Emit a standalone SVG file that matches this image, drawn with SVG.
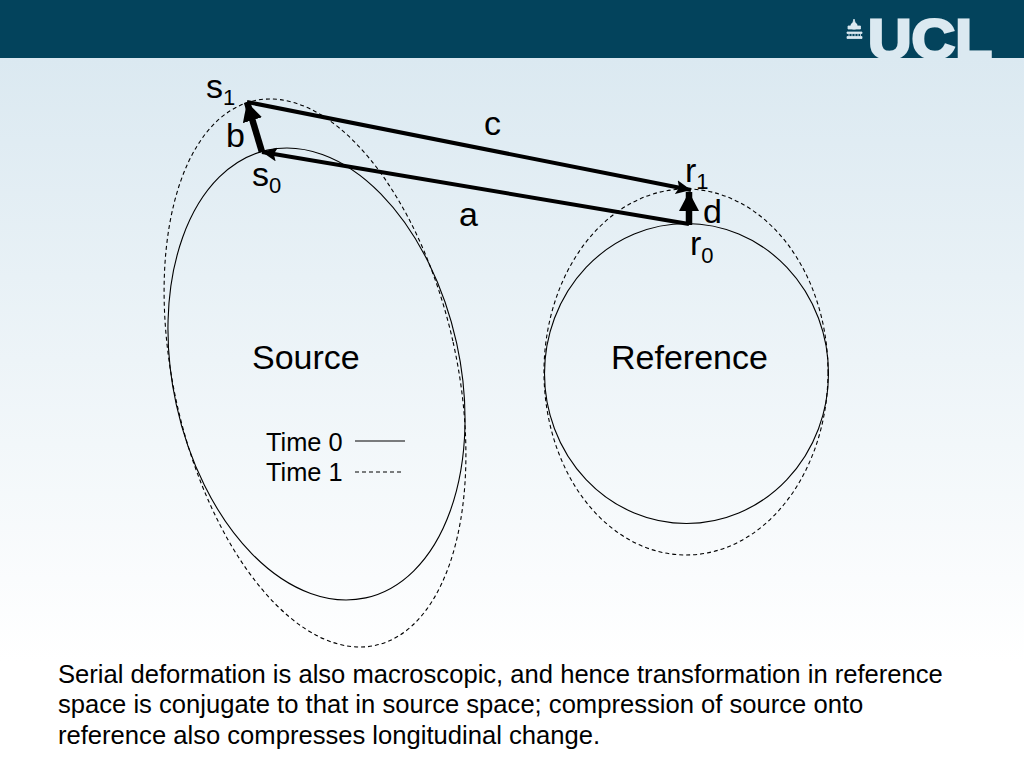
<svg xmlns="http://www.w3.org/2000/svg" width="1024" height="768" viewBox="0 0 1024 768">
<style>
text{font-family:"Liberation Sans",Arial,sans-serif;fill:#000}
.l{font-size:34px}.s{font-size:22px}.t{font-size:25.400px}.b{font-size:25.600px}
.o{fill:none;stroke:#000;stroke-width:1.100}
.d{fill:none;stroke:#000;stroke-width:1.100;stroke-dasharray:4 3}
.a{fill:none;stroke:#000;stroke-width:4}
.w{fill:none;stroke:#000;stroke-width:6.500}
</style>
<defs>
<linearGradient id="bg" x1="0" y1="0" x2="0" y2="1"><stop offset="0" stop-color="#dbe9f1"/><stop offset="0.85" stop-color="#fff"/><stop offset="1" stop-color="#fff"/></linearGradient>
<marker id="h" markerUnits="userSpaceOnUse" markerWidth="16" markerHeight="14" refX="15" refY="7" orient="auto"><path d="M0 0L15 7L0 14L3 7z" fill="#000"/></marker>
<marker id="H" markerUnits="userSpaceOnUse" markerWidth="22" markerHeight="22" refX="19" refY="10" orient="auto"><path d="M0 0L19 10L0 20z" fill="#000"/></marker>
</defs>
<rect id="background" x="0" y="58" width="1024" height="710" fill="url(#bg)"/>
<g id="banner">
<rect x="0" y="0" width="1024" height="58" fill="#03435c"/>
<path d="M854 19l1.500 5h-3zM848 26h12.500v3h-12.500zM847 32h15v1.500h-15zM849 33.500v3M852 33.500v3M855 33.500v3M858 33.500v3M860.500 33.500v3M847 36.500h15v2h-15z" fill="#dbe9f1" stroke="#dbe9f1" stroke-width=".8"/>
<circle cx="854" cy="26" r="3.500" fill="#dbe9f1"/>
<text x="868" y="58" textLength="124" lengthAdjust="spacingAndGlyphs" style="font-size:56px;font-weight:bold;fill:#dbe9f1;stroke:#dbe9f1;stroke-width:2.800">UCL</text>
</g>
<g id="source-time0"><ellipse class="o" cx="316.500" cy="374" rx="143.500" ry="229.200" transform="rotate(-12.400 316.500 374)"/></g>
<g id="source-time1"><ellipse class="d" cx="315" cy="373" rx="141.500" ry="279" transform="rotate(-12.600 315 373)"/></g>
<g id="reference-time0"><ellipse class="o" cx="686.500" cy="373.500" rx="142" ry="150"/></g>
<g id="reference-time1"><ellipse class="d" cx="686" cy="372" rx="142" ry="183"/></g>
<g id="connectors">
<line class="a" x1="247" y1="102" x2="691" y2="190" marker-end="url(#h)"/>
<line class="a" x1="689" y1="224" x2="262" y2="152" marker-end="url(#h)"/>
<line class="w" x1="262" y1="152" x2="247" y2="102" marker-end="url(#H)"/>
<line class="w" x1="689" y1="225" x2="689" y2="192" marker-end="url(#H)"/>
<line x1="355" y1="441" x2="405" y2="441" stroke="#000" stroke-width="1.100"/>
<line class="d" x1="355" y1="472" x2="403" y2="472"/>
</g>
<g id="labels">
<text class="l" x="206" y="98">s<tspan class="s" dy="7">1</tspan></text>
<text class="l" x="226" y="147">b</text>
<text class="l" x="252" y="186">s<tspan class="s" dy="7">0</tspan></text>
<text class="l" x="484" y="135">c</text>
<text class="l" x="459" y="226">a</text>
<text class="l" x="685" y="182">r<tspan class="s" dy="7">1</tspan></text>
<text class="l" x="703" y="223">d</text>
<text class="l" x="690" y="255">r<tspan class="s" dy="8">0</tspan></text>
<text class="l" x="252" y="369">Source</text>
<text class="l" x="611" y="369">Reference</text>
<text class="t" x="266" y="451">Time 0</text>
<text class="t" x="266" y="481">Time 1</text>
<text class="b" x="58" y="683">Serial deformation is also macroscopic, and hence transformation in reference</text>
<text class="b" x="58" y="713">space is conjugate to that in source space; compression of source onto</text>
<text class="b" x="58" y="744">reference also compresses longitudinal change.</text>
</g>
</svg>
